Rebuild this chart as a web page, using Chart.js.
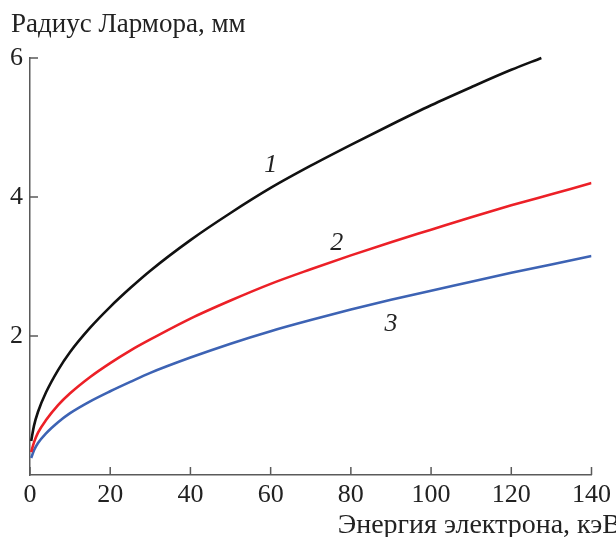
<!DOCTYPE html>
<html>
<head>
<meta charset="utf-8">
<script src="https://cdn.jsdelivr.net/npm/chart.js@4.4.1/dist/chart.umd.min.js"></script>
<style>
  html, body { margin: 0; padding: 0; background: #fff; }
  #wrap { position: relative; width: 616px; height: 537px; }
</style>
</head>
<body>
<div id="wrap"><canvas id="chart"></canvas></div>
<script>
// Energy, keV
const energy = [0.3, 1, 2, 4, 7, 10, 15, 20, 25, 30, 40, 50, 60, 70, 80, 90, 100, 110, 120, 130, 140];
const energy1 = [0.3, 1, 2, 4, 7, 10, 15, 20, 25, 30, 40, 50, 60, 70, 80, 90, 100, 110, 120, 127.5];
// Larmor radius, mm
const radius1 = [0.49, 0.71, 0.91, 1.19, 1.51, 1.77, 2.12, 2.42, 2.69, 2.94, 3.38, 3.77, 4.13, 4.45, 4.75, 5.04, 5.32, 5.58, 5.83, 6.0];
const radius2 = [0.33, 0.47, 0.61, 0.79, 1.005, 1.175, 1.41, 1.61, 1.79, 1.95, 2.25, 2.51, 2.75, 2.96, 3.16, 3.35, 3.53, 3.71, 3.88, 4.04, 4.20];
const radius3 = [0.245, 0.355, 0.46, 0.60, 0.76, 0.89, 1.06, 1.205, 1.34, 1.47, 1.69, 1.89, 2.07, 2.23, 2.38, 2.52, 2.65, 2.78, 2.91, 3.03, 3.15];
const curveLabels = ['1', '2', '3'];
const labelX = [60, 76.5, 90];
const labelY = [4.46, 3.34, 2.17];
const xTicks = [0, 20, 40, 60, 80, 100, 120, 140];
const yTicks = [2, 4, 6];

const FONT = '"Liberation Serif", "DejaVu Serif", serif';
const AXIS = '#5a5a5a';

const toPoints = (xs, ys) => xs.map((x, i) => ({ x, y: ys[i] }));

const decor = {
  id: 'decor',
  afterDraw(chart) {
    const { ctx, chartArea, scales: { x, y } } = chart;
    ctx.save();
    // inward tick marks
    ctx.strokeStyle = AXIS;
    ctx.lineWidth = 1.5;
    ctx.beginPath();
    xTicks.forEach(v => {
      const px = x.getPixelForValue(v);
      ctx.moveTo(px, chartArea.bottom);
      ctx.lineTo(px, chartArea.bottom - 8);
    });
    yTicks.forEach(v => {
      const py = y.getPixelForValue(v);
      ctx.moveTo(chartArea.left, py);
      ctx.lineTo(chartArea.left + 8, py);
    });
    ctx.stroke();
    // axis titles
    ctx.fillStyle = '#222';
    ctx.font = '27px ' + FONT;
    ctx.textBaseline = 'alphabetic';
    ctx.textAlign = 'left';
    ctx.fillText('Радиус Лармора, мм', 11, 32);
    ctx.font = '28px ' + FONT;
    ctx.textAlign = 'right';
    ctx.fillText('Энергия электрона, кэВ', 621, 533);
    // curve numbers
    ctx.font = 'italic 26px ' + FONT;
    ctx.textAlign = 'center';
    ctx.textBaseline = 'middle';
    curveLabels.forEach((t, i) => {
      ctx.fillText(t, x.getPixelForValue(labelX[i]), y.getPixelForValue(labelY[i]));
    });
    ctx.restore();
  }
};

new Chart(document.getElementById('chart'), {
  type: 'line',
  data: {
    datasets: [
      { data: toPoints(energy1, radius1), borderColor: '#111111', clip: 4 },
      { data: toPoints(energy, radius2), borderColor: '#ec2027' },
      { data: toPoints(energy, radius3), borderColor: '#3d63b4' }
    ]
  },
  options: {
    responsive: true,
    maintainAspectRatio: false,
    animation: false,
    layout: { padding: { top: 58, right: 21, left: 0, bottom: 0 } },
    elements: {
      line: { borderWidth: 2.6, cubicInterpolationMode: 'monotone', fill: false },
      point: { radius: 0 }
    },
    plugins: { legend: { display: false }, tooltip: { enabled: false } },
    scales: {
      x: {
        type: 'linear',
        min: 0,
        max: 140,
        afterFit: s => { s.height = 62; },
        afterBuildTicks: s => { s.ticks = xTicks.map(v => ({ value: v })); },
        grid: { display: false, drawTicks: false },
        border: { display: true, color: AXIS, width: 1.5 },
        ticks: { color: '#222', font: { family: FONT, size: 26 }, padding: 5, maxRotation: 0 }
      },
      y: {
        type: 'linear',
        min: 0,
        max: 6,
        afterFit: s => { s.width = 30; },
        afterBuildTicks: s => { s.ticks = yTicks.map(v => ({ value: v })); },
        grid: { display: false, drawTicks: false },
        border: { display: true, color: AXIS, width: 1.5 },
        ticks: { color: '#222', font: { family: FONT, size: 26 }, padding: 7 }
      }
    }
  },
  plugins: [decor]
});
</script>
</body>
</html>
